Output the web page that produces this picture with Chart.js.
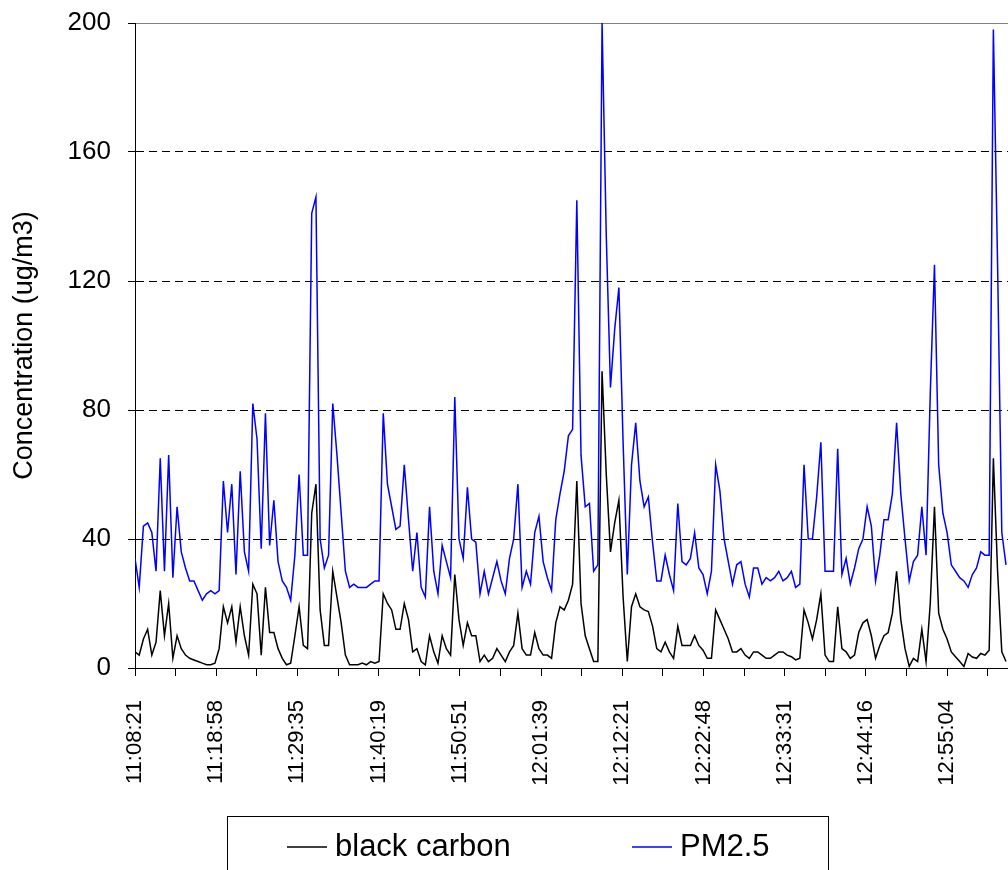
<!DOCTYPE html>
<html>
<head>
<meta charset="utf-8">
<title>Black carbon and PM2.5</title>
<script src="https://cdn.jsdelivr.net/npm/chart.js@4.4.1/dist/chart.umd.min.js"></script>
<style>
    html, body { margin: 0; padding: 0; background: #fff; }
    #wrap { width: 1008px; height: 870px; }
</style>
</head>
<body>
<div id="wrap"><canvas id="chart" width="1008" height="870"></canvas></div>
<script>
// Time stamps written under every second tick mark
const timeLabels = ['11:08:21', '11:18:58', '11:29:35', '11:40:19', '11:50:51', '12:01:39',
    '12:12:21', '12:22:48', '12:33:31', '12:44:16', '12:55:04'];
// samples between two labelled time stamps
const samplesPerLabel = 19.3;

// Concentrations in ug/m3, one value per sample
const blackCarbon = [
    5, 4, 9, 12, 4, 8, 24, 10, 20, 3, 10, 6, 4, 3, 2.5, 2, 1.5, 1, 1, 1.5, 6,
    19, 14, 19, 8, 19, 10, 4, 26, 23, 4, 25, 11, 11, 6, 3, 1, 1.5, 10, 19, 7,
    6, 48, 57, 18, 7, 7, 30, 22, 14, 4, 1, 1, 1, 1.5, 1, 2, 1.5, 2, 23, 20,
    18, 12, 12, 20, 15, 5, 6, 2, 1, 10, 5, 1.5, 10, 6, 4, 29, 15, 7, 14, 10,
    10, 2, 4, 2, 3, 6, 4, 2, 5, 7, 17, 6, 4, 4, 11, 6, 4, 4, 3, 14,
    19, 18, 21, 26, 58, 20, 10, 6, 2, 2, 92, 60, 36, 45, 52, 22, 2, 19, 23, 19,
    18, 17.5, 13, 6, 5, 8, 5, 3, 13, 7, 7, 7, 10, 7, 5.5, 3, 3, 18, 15, 12,
    9, 5, 5, 6, 4, 3, 5, 5, 4, 3, 3, 4, 5, 5, 4, 3.5, 2.5, 3, 18, 14,
    9, 15, 23, 4, 2, 2, 19, 6, 5, 3, 4, 11, 14, 15, 10, 3, 7, 10, 11, 17,
    30, 15, 6, 0.5, 3, 2, 12, 2, 20, 50, 17, 12, 9, 5, 3.5, 2, 0.5, 4.5, 3.4, 3,
    4.5, 4, 5.5, 65, 30, 5, 2
];
const pm25 = [
    34, 25, 44, 45, 42, 30, 65, 30, 66, 28, 50, 36, 31, 27, 27, 24, 21, 23, 24, 23, 24,
    58, 42, 57, 29, 61, 36, 30, 82, 71, 37, 79, 38, 52, 33, 27, 25, 21, 35, 60, 35,
    35, 141, 146, 40, 31, 35, 82, 66, 48, 30, 25, 26, 25, 25, 25, 26, 27, 27, 79, 57,
    50, 43, 44, 63, 46, 30, 42, 25, 22, 50, 30, 23, 38, 33, 28, 84, 40, 34, 56, 40,
    39, 23, 30, 23, 28, 33, 27, 23, 34, 40, 57, 25, 30, 26, 42, 47, 33, 28, 24, 46,
    54, 61, 72, 74, 145, 66, 50, 51, 30, 32, 200, 134, 87, 105, 118, 70, 29, 63, 76, 58,
    50, 53, 39, 27, 27, 35, 29, 24, 51, 33, 32, 34, 42, 31, 29, 23, 30, 63, 55, 40,
    33, 26, 32, 33, 26, 22, 31, 31, 26, 28, 27, 28, 30, 27, 28, 30, 25, 26, 63, 40,
    40, 53, 70, 30, 30, 30, 68, 29, 34, 26, 31, 37, 40, 50, 44, 27, 35, 46, 46, 54,
    76, 54, 40, 27, 33, 35, 50, 35, 85, 125, 63, 48, 42, 32, 30, 28, 27, 25, 29, 31,
    36, 35, 35, 198, 125, 42, 32
];

// x in "label intervals": 0 = first time stamp, 1 = second, ...
const toPoints = values => values.map((v, i) => ({ x: i / samplesPerLabel, y: v }));

Chart.defaults.font.family = "'Liberation Sans', Arial, sans-serif";
Chart.defaults.color = '#000';

// Framed legend under the time axis, as in the original sheet
const boxLegend = {
    id: 'boxLegend',
    afterDraw(chart) {
        const ctx = chart.ctx;
        const sets = chart.data.datasets;
        const top = 816.5;
        const midY = 847;
        const starts = [287, 632];

        ctx.save();
        ctx.strokeStyle = '#000';
        ctx.lineWidth = 1;
        ctx.strokeRect(227.5, top, 601, 80);

        ctx.font = "31px 'Liberation Sans', Arial, sans-serif";
        ctx.textBaseline = 'middle';
        ctx.textAlign = 'left';
        sets.forEach((ds, k) => {
            const x = starts[k];
            ctx.strokeStyle = ds.borderColor;
            ctx.lineWidth = 1.5;
            ctx.beginPath();
            ctx.moveTo(x, midY);
            ctx.lineTo(x + 40, midY);
            ctx.stroke();
            ctx.fillStyle = '#000';
            ctx.fillText(ds.label, x + 48, midY);
        });
        ctx.restore();
    }
};

new Chart(document.getElementById('chart'), {
    type: 'line',
    data: {
        datasets: [
            {
                label: 'black carbon',
                data: toPoints(blackCarbon),
                borderColor: '#000000',
                borderWidth: 1.5,
                pointRadius: 0,
                tension: 0
            },
            {
                label: 'PM2.5',
                data: toPoints(pm25),
                borderColor: '#0000ff',
                borderWidth: 1.5,
                pointRadius: 0,
                tension: 0
            }
        ]
    },
    options: {
        responsive: false,
        animation: false,
        devicePixelRatio: 1,
        layout: { autoPadding: false, padding: { top: 23, right: 0, left: 0, bottom: 0 } },
        plugins: {
            legend: { display: false },
            tooltip: { enabled: false }
        },
        scales: {
            x: {
                type: 'linear',
                min: 0,
                max: 10.75,   // the sheet is cropped a little after the last stamp
                afterFit: scale => {
                    scale.height = 202;
                    scale.paddingLeft = 0;
                    scale.paddingRight = 0;
                },
                grid: { drawOnChartArea: false, drawTicks: true, tickLength: 8, color: '#000' },
                border: { color: '#000', width: 1 },
                ticks: {
                    stepSize: 0.5,
                    maxTicksLimit: 40,
                    autoSkip: false,
                    includeBounds: false,
                    minRotation: 90,
                    maxRotation: 90,
                    padding: 24,
                    font: { size: 22 },
                    callback: v => (Number.isInteger(v) ? timeLabels[v] : '')
                }
            },
            y: {
                min: 0,
                max: 200,
                afterFit: scale => {
                    scale.width = 135;
                    scale.paddingTop = 0;
                    scale.paddingBottom = 0;
                },
                grid: {
                    color: c => (c.tick && c.tick.value === 200 ? '#808080' : '#000'),
                    tickColor: '#000',
                    tickLength: 7
                },
                border: {
                    color: '#000',
                    dash: c => (c.tick && c.tick.value < 200 ? [8, 5] : [])
                },
                ticks: { stepSize: 40, padding: 17, font: { size: 26 } },
                title: {
                    display: true,
                    text: 'Concentration (ug/m3)',
                    font: { size: 27 },
                    padding: { top: 8, bottom: 0 }
                }
            }
        }
    },
    plugins: [boxLegend]
});
</script>
</body>
</html>
